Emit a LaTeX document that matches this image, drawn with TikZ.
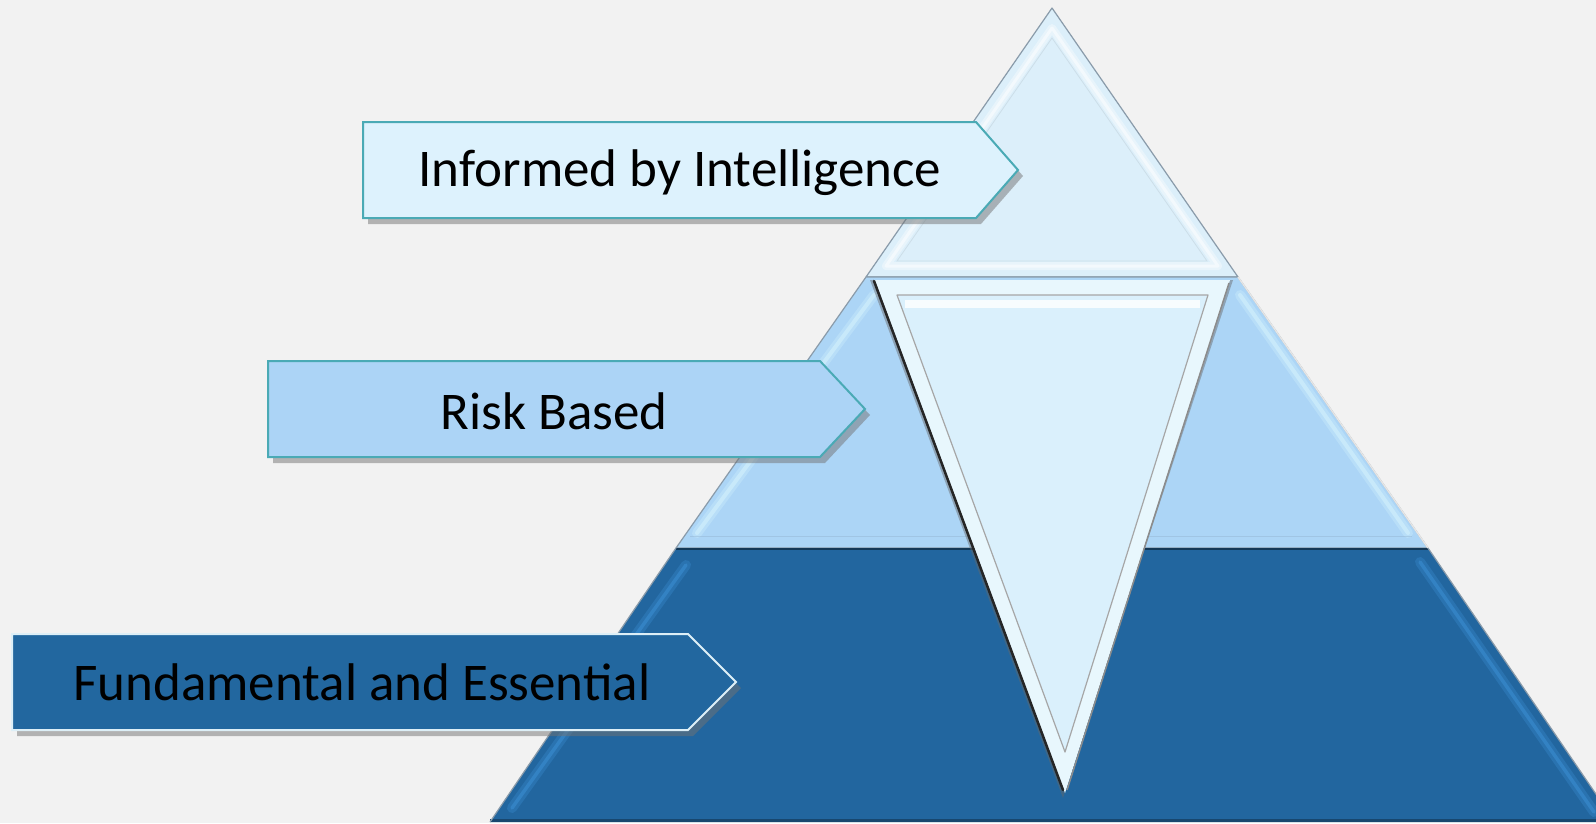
\documentclass[tikz,border=0pt]{standalone}
\usepackage{fontspec}
\setmainfont{Carlito}
\definecolor{bg}{HTML}{F2F2F2}
\definecolor{topfill}{HTML}{DCEFFA}
\definecolor{midfill}{HTML}{ACD5F6}
\definecolor{botfill}{HTML}{22669F}
\definecolor{teal}{HTML}{4AAAB5}
\definecolor{boxone}{HTML}{DDF2FD}
\definecolor{boxtwo}{HTML}{ACD4F6}
\definecolor{boxthree}{HTML}{22679F}
\definecolor{paleline}{HTML}{DDEFF7}
\definecolor{edgegray}{HTML}{8A9BAA}
\definecolor{invout}{HTML}{E8F7FD}
\definecolor{invin}{HTML}{DAF0FC}
\definecolor{midhi}{HTML}{CFEFFC}
\definecolor{bothi}{HTML}{3A8CD0}
\begin{document}
\begin{tikzpicture}[x=1pt,y=-1pt,
  tier/.style={draw=edgegray,line width=1.2pt,line join=round},
  softline/.style={line width=#1,line cap=round,opacity=0.35},
  shadowshape/.style={fill=black!55,opacity=0.5},
  labeltext/.style={font=\fontsize{53}{60}\selectfont,text=black,inner sep=0pt,anchor=center}]
\useasboundingbox[fill=bg] (0,0) rectangle (1596,823);

% ---------- pyramid tiers ----------
% top tier
\fill[topfill] (1052,8) -- (1238,277) -- (866,277) -- cycle;
\draw[white,line width=8pt,opacity=0.35,line join=round] (1052,28) -- (1218,266) -- (886,266) -- cycle;
\draw[white,line width=3pt,opacity=0.5,line join=round] (1052,28) -- (1218,266) -- (886,266) -- cycle;
\draw[topfill!80!black,line width=0.8pt,opacity=0.35] (1052,38) -- (1207,261) -- (897,261) -- cycle;
\draw[tier] (1052,8) -- (1238,277) -- (866,277) -- cycle;

% middle tier
\fill[midfill] (866,277) -- (1238,277) -- (1428,548) -- (676,548) -- cycle;
\draw[midhi,softline=10pt] (874,295) -- (697,533);
\draw[midhi,line width=4pt,opacity=0.7,line cap=round] (874,295) -- (697,533);
\draw[midhi,softline=10pt] (1240,295) -- (1408,533);
\draw[midhi,line width=4pt,opacity=0.7,line cap=round] (1240,295) -- (1408,533);
\draw[midfill!80!black,line width=1pt,opacity=0.35] (690,536) -- (1412,536);
\draw[tier] (866,277) -- (1238,277) -- (1428,548) -- (676,548) -- cycle;

% bottom tier
\fill[botfill] (676,548) -- (1428,548) -- (1615,822) -- (490,822) -- cycle;
\draw[bothi,softline=10pt] (686,565) -- (512,808);
\draw[bothi,line width=3.5pt,opacity=0.6,line cap=round] (686,565) -- (512,808);
\draw[bothi,softline=10pt] (1420,562) -- (1594,812);
\draw[bothi,line width=3.5pt,opacity=0.6,line cap=round] (1420,562) -- (1594,812);
\draw[botfill!70!black,line width=3pt] (490,820) -- (1615,820);
\draw[botfill!55!black,line width=2pt] (676,549) -- (1428,549);
\draw[edgegray,line width=1.2pt] (676,548) -- (490,822);
\draw[edgegray,line width=1.2pt] (1428,548) -- (1615,822);
\draw[white!80!gray,line width=1.5pt] (1238,277) -- (1428,548);

% ---------- inverted triangle ----------
\fill[black!60,opacity=0.45] (870,280) -- (1233,280) -- (1063,798) -- cycle;
\fill[invout] (875,280) -- (1230,280) -- (1065,793) -- cycle;
\draw[black!85,line width=2.5pt,line cap=round] (874,281) -- (1063,790);
\draw[black!45,line width=1.5pt] (1229,283) -- (1067,790);
\fill[invin] (897,295) -- (1208,295) -- (1065,752) -- cycle;
\draw[white,line width=8pt,opacity=0.8] (905,304) -- (1200,304);
\draw[gray!70,line width=1.2pt,line join=round] (897,295) -- (1208,295) -- (1065,752) -- cycle;

% ---------- label arrows ----------
% box 1
\fill[shadowshape] (368,128) -- (981,128) -- (1023,176) -- (981,224) -- (368,224) -- cycle;
\draw[teal,line width=2pt,fill=boxone,line join=miter] (363,122) -- (976,122) -- (1018,170) -- (976,218) -- (363,218) -- cycle;
\node[labeltext] (l1) at (680,173) {Informed by Intelligence};

% box 2
\fill[shadowshape] (273,367) -- (825,367) -- (870,415) -- (825,463) -- (273,463) -- cycle;
\draw[teal,line width=2pt,fill=boxtwo,line join=miter] (268,361) -- (820,361) -- (865,409) -- (820,457) -- (268,457) -- cycle;
\node[labeltext] (l2) at (554,411) {Risk Based};

% box 3
\fill[shadowshape] (17,640) -- (693,640) -- (741,688) -- (693,736) -- (17,736) -- cycle;
\draw[paleline,line width=2pt,fill=boxthree,line join=miter] (12,634) -- (688,634) -- (736,682) -- (688,730) -- (12,730) -- cycle;
\node[labeltext] (l3) at (362,682) {Fundamental and Essential};
\end{tikzpicture}
\end{document}
